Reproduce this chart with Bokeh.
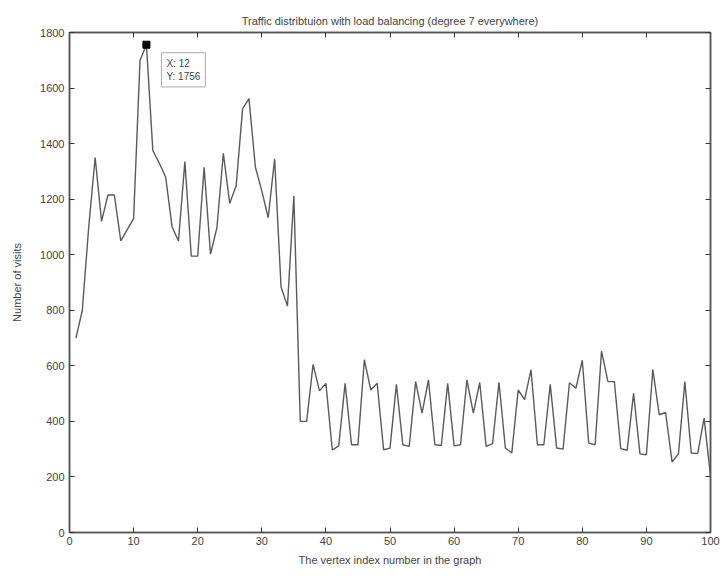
from bokeh.plotting import figure
from bokeh.models import LinearAxis, Range1d, Label, FixedTicker
from bokeh.embed import file_html
from bokeh.resources import INLINE

title_text = "Traffic distribtuion with load balancing (degree 7 everywhere)"
x_label = "The vertex index number in the graph"
y_label = "Number of visits"

vertex = list(range(1, 101))
visits = [
    700, 800, 1100, 1350, 1120, 1215, 1215, 1050, 1090, 1130,
    1700, 1756, 1375, 1330, 1280, 1100, 1050, 1335, 995, 995,
    1315, 1002, 1098, 1365, 1185, 1248, 1525, 1562, 1315, 1230,
    1133, 1345, 885, 815, 1212, 400, 400, 605, 510, 537,
    297, 312, 537, 316, 316, 622, 513, 537, 298, 304,
    533, 316, 310, 543, 430, 549, 316, 313, 537, 312,
    316, 549, 430, 540, 310, 320, 541, 304, 286, 513,
    478, 586, 316, 316, 533, 304, 300, 539, 519, 620,
    322, 316, 653, 543, 543, 302, 296, 501, 283, 280,
    587, 424, 432, 254, 283, 543, 286, 284, 412, 205,
]
tip_x = 12
tip_y = 1756

x_ticks = [0, 10, 20, 30, 40, 50, 60, 70, 80, 90, 100]
y_ticks = [0, 200, 400, 600, 800, 1000, 1200, 1400, 1600, 1800]

FONT = "Liberation Sans"
GREY = "#444444"

p = figure(width=720, height=568, output_backend="svg", toolbar_location=None,
           x_range=Range1d(0, 100), y_range=Range1d(0, 1800),
           min_border_left=69, min_border_right=10, min_border_top=32, min_border_bottom=33)
p.background_fill_color = "white"
p.border_fill_color = "white"
p.outline_line_color = "#555555"
p.outline_line_width = 1.5
p.grid.visible = False

p.title.text = title_text
p.title.align = "center"
p.title.text_font = FONT
p.title.text_font_size = "11px"
p.title.text_font_style = "normal"
p.title.text_color = GREY
p.title.offset = 0
p.title.standoff = 11

for ax in p.xaxis + p.yaxis:
    ax.axis_line_color = "#555555"
    ax.axis_line_width = 1.5
    ax.major_tick_in = 5
    ax.major_tick_out = 0
    ax.minor_tick_line_color = None
    ax.major_tick_line_color = "#333333"
    ax.major_label_text_font = FONT
    ax.major_label_text_font_size = "11px"
    ax.major_label_text_color = GREY
    ax.axis_label_text_font = FONT
    ax.axis_label_text_font_size = "11px"
    ax.axis_label_text_font_style = "normal"
    ax.axis_label_text_color = GREY

p.xaxis.ticker = FixedTicker(ticks=x_ticks)
p.yaxis.ticker = FixedTicker(ticks=y_ticks)
p.xaxis.axis_label = x_label
p.yaxis.axis_label = y_label
p.xaxis.major_label_standoff = 4
p.xaxis.axis_label_standoff = 6
p.yaxis.major_label_standoff = 5
p.yaxis.axis_label_standoff = 14

for side, tk in (("right", y_ticks), ("above", x_ticks)):
    a = LinearAxis(ticker=FixedTicker(ticks=tk),
                   major_label_overrides={t: "" for t in tk},
                   major_tick_in=5, major_tick_out=0, minor_tick_line_color=None,
                   axis_line_color="#555555", axis_line_width=1.5,
                   major_tick_line_color="#333333", major_label_standoff=0)
    p.add_layout(a, side)

p.line(vertex, visits, line_color="#5a5a5a", line_width=1.4)
p.scatter([tip_x], [tip_y], marker="square", size=7, color="black")

tip = Label(x=tip_x, y=tip_y, x_offset=15, y_offset=-8,
            text=f"X: {tip_x}\nY: {tip_y}", text_font=FONT, text_font_size="10px",
            text_color=GREY, text_align="left", text_baseline="top",
            background_fill_color="white", border_line_color="#aaaaaa",
            border_line_width=1, padding=5)
p.add_layout(tip)

open("out.html", "w").write(file_html(p, INLINE))
